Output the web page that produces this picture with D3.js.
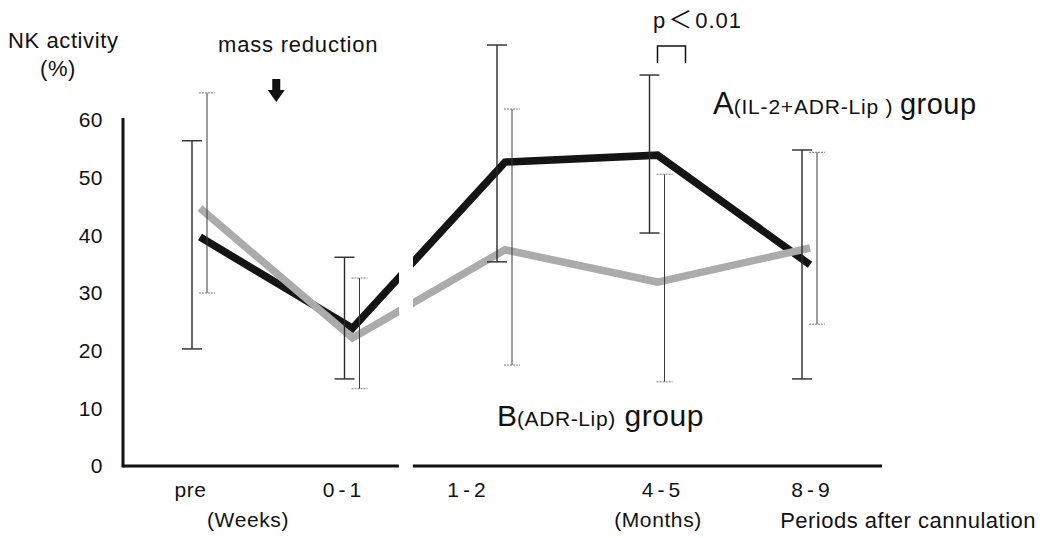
<!DOCTYPE html>
<html>
<head>
<meta charset="utf-8">
<script src="https://cdn.jsdelivr.net/npm/d3@7"></script>
<style>
  body { margin: 0; background: #fff; }
  svg { font-family: "Liberation Sans", Arial, Helvetica, sans-serif; }
</style>
</head>
<body>
<div id="chart"></div>
<script>
// NK activity by period after cannulation, mean with SD bars
const periods = ["pre", "0-1", "1-2", "4-5", "8-9"];
const groupA = [39.7, 23.9, 52.7, 53.9, 34.9];
const groupAUpper = [56.4, 36.2, 73.0, 67.8, 54.8];
const groupALower = [20.3, 15.1, 35.4, 40.4, 15.1];
const groupB = [44.7, 22.2, 37.5, 31.9, 37.8];
const groupBUpper = [64.7, 32.6, 61.9, 50.6, 54.4];
const groupBLower = [30.0, 13.4, 17.5, 14.6, 24.6];
const yTicks = [0, 10, 20, 30, 40, 50, 60];

const width = 1052,
  height = 538;

const svg = d3
  .select("#chart")
  .append("svg")
  .attr("width", width)
  .attr("height", height);

const x = d3.scalePoint().domain(periods).range([200, 810]);
const y = d3.scaleLinear().domain([0, 60]).range([466, 120]);

const step = x.step();
const axisLeftX = 123;
const axisRightX = x("8-9") + 72;
const breakX = x("0-1") + 0.35 * step; // gap between weeks and months
const gap = 7;

// clip regions either side of the break
const defs = svg.append("defs");
defs
  .append("clipPath")
  .attr("id", "clipLeft")
  .append("rect")
  .attr("x", 0)
  .attr("y", 0)
  .attr("width", breakX - gap)
  .attr("height", height);
defs
  .append("clipPath")
  .attr("id", "clipRight")
  .append("rect")
  .attr("x", breakX + gap)
  .attr("y", 0)
  .attr("width", width)
  .attr("height", height);

// Y axis
const yAxis = svg
  .append("g")
  .attr("transform", `translate(${axisLeftX},0)`)
  .call(d3.axisLeft(y).tickValues(yTicks).tickSize(0).tickPadding(20));
yAxis.select(".domain").remove();
yAxis
  .selectAll("text")
  .attr("font-size", 21)
  .attr("font-family", "Liberation Sans, Arial, sans-serif")
  .attr("letter-spacing", 0.5)
  .attr("fill", "#111");
svg
  .append("line")
  .attr("x1", axisLeftX)
  .attr("x2", axisLeftX)
  .attr("y1", y(60) - 2)
  .attr("y2", y(0) + 1.5)
  .attr("stroke", "#111")
  .attr("stroke-width", 3);

// X axis (broken)
const labelShift = { pre: -10, "0-1": -9, "1-2": -37, "4-5": 5, "8-9": 2 };
const xAxis = svg
  .append("g")
  .attr("transform", `translate(0,${y(0)})`)
  .call(d3.axisBottom(x).tickSize(0).tickPadding(16));
xAxis.select(".domain").remove();
xAxis
  .selectAll("text")
  .attr("font-size", 21)
  .attr("font-family", "Liberation Sans, Arial, sans-serif")
  .attr("letter-spacing", (d) => (d.includes("-") ? 4 : 0.5))
  .attr("fill", "#111")
  .attr("dx", (d) => labelShift[d]);

[
  [axisLeftX, breakX - gap],
  [breakX + gap, axisRightX],
].forEach(([a, b]) => {
  svg
    .append("line")
    .attr("x1", a)
    .attr("x2", b)
    .attr("y1", y(0))
    .attr("y2", y(0))
    .attr("stroke", "#111")
    .attr("stroke-width", 3);
});

// Lines
const line = d3
  .line()
  .x((d, i) => x(periods[i]))
  .y((d) => y(d));

const series = [
  { values: groupA, color: "#141414" },
  { values: groupB, color: "#ababab" },
];

["clipLeft", "clipRight"].forEach((clip) => {
  const g = svg.append("g").attr("clip-path", `url(#${clip})`);
  series.forEach((s) => {
    g.append("path")
      .datum(s.values)
      .attr("d", line)
      .attr("fill", "none")
      .attr("stroke", s.color)
      .attr("stroke-width", 7.5)
      .attr("stroke-linejoin", "miter");
  });
});

// Error bars
const bars = [
  { lower: groupALower, upper: groupAUpper, offset: -8, cap: 20, color: "#2a2a2a", capDash: null, w: 1.4 },
  { lower: groupBLower, upper: groupBUpper, offset: 7, cap: 16, color: "#3a3a3a", capDash: "2,1", w: 1 },
];

bars.forEach((b) => {
  const g = svg.append("g");
  periods.forEach((p, i) => {
    const cx = x(p) + b.offset;
    g.append("line")
      .attr("x1", cx)
      .attr("x2", cx)
      .attr("y1", y(b.upper[i]))
      .attr("y2", y(b.lower[i]))
      .attr("stroke", b.color)
      .attr("stroke-width", b.w);
    [b.upper[i], b.lower[i]].forEach((v) => {
      g.append("line")
        .attr("x1", cx - b.cap / 2)
        .attr("x2", cx + b.cap / 2)
        .attr("y1", y(v))
        .attr("y2", y(v))
        .attr("stroke", b.capDash ? "#777" : b.color)
        .attr("stroke-width", b.capDash ? 1 : 1.4)
        .attr("stroke-dasharray", b.capDash);
    });
  });
});

// Titles and annotations
svg
  .append("text")
  .attr("x", 8)
  .attr("y", 48)
  .attr("font-size", 22)
  .attr("letter-spacing", 0.6)
  .attr("fill", "#111")
  .text("NK activity");
svg
  .append("text")
  .attr("x", 40)
  .attr("y", 76)
  .attr("font-size", 22)
  .attr("letter-spacing", 0.6)
  .attr("fill", "#111")
  .text("(%)");

svg
  .append("text")
  .attr("x", 218)
  .attr("y", 52)
  .attr("font-size", 22)
  .attr("letter-spacing", 0.8)
  .attr("fill", "#111")
  .text("mass reduction");

// down arrow between pre and 0-1
const ax = x("pre") + step / 2;
svg
  .append("path")
  .attr(
    "d",
    `M${ax - 4},79 L${ax + 4},79 L${ax + 4},90 L${ax + 8.5},90 L${ax},102 L${ax - 8.5},90 L${ax - 4},90 Z`
  )
  .attr("fill", "#111");

// significance bracket at 4-5
const bx = x("4-5");
svg
  .append("path")
  .attr("d", `M${bx},63 L${bx},46 L${bx + 28},46 L${bx + 28},63`)
  .attr("fill", "none")
  .attr("stroke", "#111")
  .attr("stroke-width", 1.5);
const pText = svg
  .append("text")
  .attr("x", 653)
  .attr("y", 28)
  .attr("font-size", 22)
  .attr("fill", "#111");
pText.append("tspan").attr("letter-spacing", 3).text("p");
pText
  .append("tspan")
  .attr("font-family", "Noto Sans CJK JP, sans-serif")
  .attr("font-size", 24)
  .attr("letter-spacing", 3)
  .text("\uFF1C");
pText.append("tspan").attr("letter-spacing", 1).text("0.01");

// group labels
const labA = svg
  .append("text")
  .attr("x", 713)
  .attr("y", 114)
  .attr("fill", "#111");
labA.append("tspan").attr("font-size", 31).text("A");
labA
  .append("tspan")
  .attr("font-size", 21)
  .attr("letter-spacing", 0.8)
  .text("(IL-2+ADR-Lip ) ");
labA
  .append("tspan")
  .attr("font-size", 29)
  .attr("letter-spacing", 0.5)
  .text("group");

const labB = svg
  .append("text")
  .attr("x", 497)
  .attr("y", 426)
  .attr("fill", "#111");
labB.append("tspan").attr("font-size", 30).text("B");
labB
  .append("tspan")
  .attr("font-size", 21)
  .attr("letter-spacing", 0.6)
  .text("(ADR-Lip)");
labB
  .append("tspan")
  .attr("font-size", 30)
  .attr("letter-spacing", 0.5)
  .text(" group");

// period units
svg
  .append("text")
  .attr("x", 248)
  .attr("y", 527)
  .attr("text-anchor", "middle")
  .attr("font-size", 21)
  .attr("letter-spacing", 0.6)
  .attr("fill", "#111")
  .text("(Weeks)");
svg
  .append("text")
  .attr("x", 658)
  .attr("y", 527)
  .attr("text-anchor", "middle")
  .attr("font-size", 21)
  .attr("letter-spacing", 0.6)
  .attr("fill", "#111")
  .text("(Months)");
svg
  .append("text")
  .attr("x", 1036)
  .attr("y", 528)
  .attr("text-anchor", "end")
  .attr("font-size", 22)
  .attr("letter-spacing", 0.5)
  .attr("fill", "#111")
  .text("Periods after cannulation");
</script>
</body>
</html>
